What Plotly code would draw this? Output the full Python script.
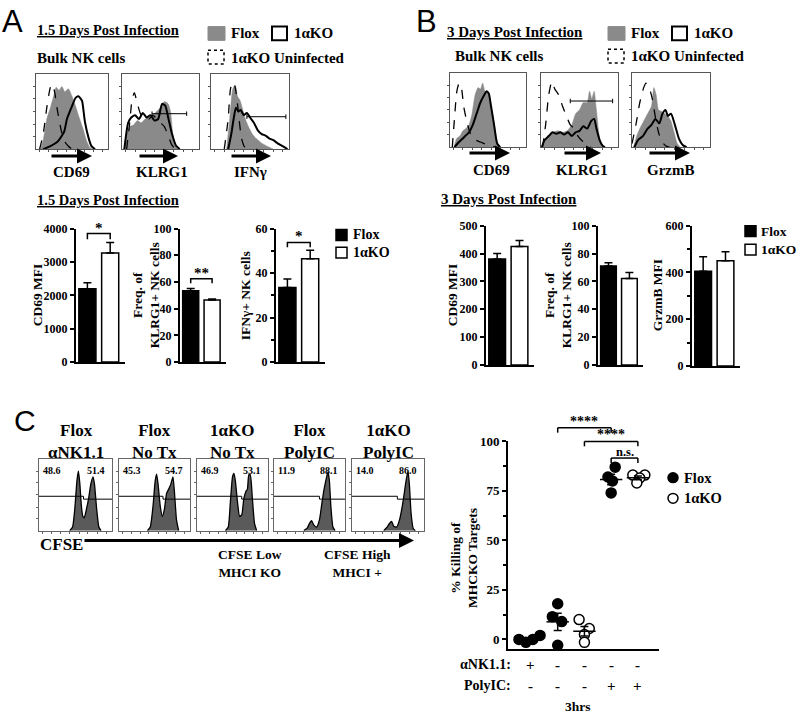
import plotly.graph_objects as go
import numpy as np

W, H = 796, 722
SERIF = "Liberation Serif"
SANS = "Liberation Sans"

# ---------------- data ----------------
bar_groups = ["Flox", "1αKO"]
A_cd69_mfi = [2200, 3270]
A_cd69_sem = [180, 310]
A_klrg1_pct = [53.5, 46.5]
A_klrg1_sem = [1.6, 0.8]
A_ifng_pct = [33.5, 46.5]
A_ifng_sem = [3.8, 3.8]
B_cd69_mfi = [380, 425]
B_cd69_sem = [20, 22]
B_klrg1_pct = [71, 62]
B_klrg1_sem = [2.3, 4.3]
B_grzmb_mfi = [405, 450]
B_grzmb_sem = [62, 38]

# flow histograms: (relative fluorescence, relative count)
A_cd69_unif = [(0.05,0),(0.1,0.2),(0.15,0.55),(0.2,0.82),(0.23,0.86),(0.26,0.75),(0.3,0.5),(0.35,0.25),(0.4,0.1),(0.45,0.04),(0.5,0)]
A_cd69_flox = [(0.06,0),(0.1,0.12),(0.15,0.4),(0.2,0.55),(0.25,0.72),(0.28,0.82),(0.32,0.78),(0.36,0.83),(0.4,0.76),(0.45,0.8),(0.5,0.7),(0.55,0.57),(0.6,0.42),(0.65,0.28),(0.7,0.12),(0.75,0.02),(0.8,0)]
A_cd69_ko = [(0.1,0),(0.2,0.04),(0.3,0.1),(0.39,0.23),(0.43,0.4),(0.5,0.57),(0.55,0.68),(0.59,0.7),(0.62,0.67),(0.64,0.64),(0.68,0.36),(0.73,0.15),(0.77,0.04),(0.82,0)]

A_klrg1_unif = [(0.06,0),(0.1,0.35),(0.13,0.65),(0.16,0.75),(0.2,0.6),(0.25,0.45),(0.3,0.45),(0.35,0.4),(0.4,0.45),(0.45,0.4),(0.5,0.35),(0.55,0.3),(0.6,0.18),(0.65,0.05),(0.7,0)]
A_klrg1_flox = [(0.03,0),(0.06,0.2),(0.1,0.3),(0.15,0.32),(0.2,0.38),(0.25,0.35),(0.3,0.4),(0.35,0.42),(0.4,0.45),(0.45,0.5),(0.5,0.55),(0.55,0.63),(0.6,0.6),(0.63,0.5),(0.66,0.2),(0.7,0.03),(0.73,0)]
A_klrg1_ko = [(0.03,0),(0.08,0.35),(0.12,0.42),(0.17,0.45),(0.22,0.4),(0.27,0.48),(0.32,0.42),(0.37,0.45),(0.42,0.38),(0.47,0.4),(0.52,0.6),(0.56,0.58),(0.6,0.42),(0.65,0.2),(0.7,0.05),(0.75,0)]
A_klrg1_gate = [(0.39,0.47),(0.84,0.47)]

A_ifng_unif = [(0.17,0),(0.22,0.4),(0.25,0.8),(0.28,0.89),(0.31,0.82),(0.35,0.5),(0.39,0.15),(0.43,0.03),(0.47,0)]
A_ifng_flox = [(0.2,0),(0.24,0.4),(0.28,0.8),(0.31,0.85),(0.34,0.7),(0.37,0.65),(0.4,0.55),(0.44,0.4),(0.48,0.3),(0.53,0.2),(0.58,0.14),(0.65,0.08),(0.72,0.04),(0.8,0)]
A_ifng_ko = [(0.22,0),(0.26,0.2),(0.29,0.4),(0.32,0.55),(0.35,0.5),(0.38,0.52),(0.42,0.45),(0.46,0.48),(0.5,0.42),(0.55,0.35),(0.6,0.25),(0.65,0.2),(0.7,0.18),(0.75,0.14),(0.8,0.12),(0.85,0.08),(0.9,0.05),(0.95,0.02),(0.98,0)]
A_ifng_gate = [(0.46,0.43),(0.96,0.43)]

B_cd69_unif = [(0.03,0),(0.06,0.4),(0.09,0.75),(0.12,0.86),(0.15,0.8),(0.18,0.55),(0.22,0.35),(0.27,0.18),(0.33,0.1),(0.4,0.07),(0.5,0.03),(0.6,0)]
B_cd69_flox = [(0.05,0),(0.09,0.12),(0.13,0.15),(0.17,0.22),(0.21,0.25),(0.25,0.3),(0.29,0.45),(0.33,0.7),(0.37,0.8),(0.4,0.78),(0.43,0.86),(0.46,0.75),(0.5,0.72),(0.53,0.6),(0.56,0.45),(0.6,0.2),(0.63,0.05),(0.66,0)]
B_cd69_ko = [(0.06,0),(0.1,0.05),(0.15,0.1),(0.2,0.15),(0.25,0.2),(0.3,0.3),(0.35,0.45),(0.4,0.6),(0.45,0.7),(0.48,0.75),(0.51,0.72),(0.54,0.55),(0.58,0.3),(0.62,0.05),(0.66,0)]

B_klrg1_unif = [(0.02,0),(0.06,0.3),(0.1,0.7),(0.14,0.88),(0.18,0.78),(0.23,0.7),(0.28,0.55),(0.33,0.42),(0.38,0.3),(0.43,0.25),(0.48,0.15),(0.54,0.08),(0.6,0.03),(0.65,0)]
B_klrg1_flox = [(0.01,0),(0.04,0.1),(0.1,0.15),(0.16,0.2),(0.22,0.22),(0.28,0.2),(0.34,0.22),(0.4,0.3),(0.45,0.45),(0.5,0.5),(0.55,0.6),(0.6,0.6),(0.63,0.75),(0.66,0.65),(0.69,0.75),(0.72,0.5),(0.75,0.2),(0.78,0.03),(0.8,0)]
B_klrg1_ko = [(0.01,0),(0.05,0.1),(0.1,0.15),(0.15,0.2),(0.2,0.18),(0.25,0.2),(0.3,0.17),(0.35,0.2),(0.4,0.15),(0.45,0.2),(0.5,0.22),(0.55,0.28),(0.6,0.25),(0.65,0.35),(0.69,0.38),(0.72,0.25),(0.76,0.1),(0.8,0.02),(0.83,0)]
B_klrg1_gate = [(0.38,0.62),(0.93,0.62)]

B_grzmb_unif = [(0.0,0.05),(0.05,0.3),(0.1,0.6),(0.15,0.8),(0.18,0.86),(0.22,0.8),(0.26,0.65),(0.3,0.4),(0.34,0.2),(0.38,0.08),(0.43,0.02),(0.48,0)]
B_grzmb_flox = [(0.02,0),(0.06,0.15),(0.1,0.25),(0.15,0.35),(0.2,0.45),(0.25,0.55),(0.28,0.8),(0.31,0.7),(0.34,0.5),(0.38,0.48),(0.42,0.45),(0.46,0.42),(0.5,0.35),(0.54,0.2),(0.58,0.05),(0.62,0)]
B_grzmb_ko = [(0.03,0),(0.08,0.1),(0.14,0.15),(0.2,0.25),(0.25,0.3),(0.3,0.38),(0.35,0.32),(0.39,0.45),(0.43,0.5),(0.46,0.42),(0.5,0.45),(0.55,0.3),(0.6,0.12),(0.65,0.03),(0.7,0)]

# CFSE histograms (panel C)
C_titles = ["Flox<br>αNK1.1", "Flox<br>No Tx", "1αKO<br>No Tx", "Flox<br>PolyIC", "1αKO<br>PolyIC"]
C_low_pct = ["48.6", "45.3", "46.9", "11.9", "14.0"]
C_high_pct = ["51.4", "54.7", "53.1", "88.1", "86.0"]
C_gate_split = [0.61, 0.62, 0.63, 0.64, 0.63]
C_hist_1 = [(0.42,0),(0.46,0.05),(0.49,0.3),(0.52,0.7),(0.54,0.83),(0.56,0.65),(0.58,0.35),(0.6,0.2),(0.62,0.18),(0.65,0.3),(0.68,0.45),(0.71,0.65),(0.74,0.75),(0.76,0.65),(0.79,0.3),(0.82,0.05),(0.85,0)]
C_hist_2 = [(0.4,0),(0.44,0.05),(0.48,0.35),(0.51,0.7),(0.53,0.79),(0.55,0.65),(0.58,0.35),(0.61,0.2),(0.64,0.3),(0.67,0.52),(0.7,0.58),(0.73,0.65),(0.76,0.75),(0.78,0.55),(0.81,0.15),(0.84,0)]
C_hist_3 = [(0.4,0),(0.44,0.05),(0.47,0.4),(0.5,0.75),(0.52,0.8),(0.54,0.7),(0.57,0.4),(0.6,0.2),(0.63,0.22),(0.66,0.45),(0.69,0.55),(0.71,0.58),(0.73,0.78),(0.75,0.78),(0.78,0.45),(0.81,0.1),(0.84,0)]
C_hist_4 = [(0.42,0),(0.47,0.04),(0.51,0.12),(0.53,0.14),(0.56,0.08),(0.6,0.05),(0.64,0.15),(0.67,0.35),(0.7,0.55),(0.73,0.7),(0.76,0.82),(0.78,0.7),(0.8,0.35),(0.83,0.05),(0.86,0)]
C_hist_5 = [(0.44,0),(0.48,0.04),(0.52,0.1),(0.55,0.13),(0.58,0.06),(0.62,0.05),(0.66,0.15),(0.7,0.35),(0.73,0.55),(0.76,0.75),(0.78,0.82),(0.8,0.6),(0.82,0.25),(0.85,0.03),(0.88,0)]

# killing assay (panel C, right)
kill_ank11_row = ["+", "-", "-", "-", "-"]
kill_polyic_row = ["-", "-", "-", "+", "+"]
kill_flox_ank11 = [0, -1.5, 0, 2]
kill_flox_notx = [18, 11.5, 9, -3]
kill_ko_notx = [10, 5.5, 2.5, -1.5]
kill_flox_polyic = [87, 82, 80, 74]
kill_ko_polyic = [83, 83, 81.5, 79]
jit_flox_ank11 = [-0.45, -0.19, 0.07, 0.34]
jit_flox_notx = [0.0, -0.2, 0.15, 0.0]
jit_ko_notx = [-0.2, 0.18, 0.0, 0.0]
jit_flox_polyic = [0.15, -0.12, 0.05, 0.0]
jit_ko_polyic = [-0.19, 0.26, 0.07, -0.04]

# ---------------- helpers ----------------
def fx(x): return x / W
def fy(y): return 1 - y / H

fig = go.Figure()
layout = dict(width=W, height=H, margin=dict(l=0, r=0, t=0, b=0),
              paper_bgcolor="white", plot_bgcolor="rgba(0,0,0,0)", showlegend=False)
shapes, annotations = [], []
naxes = [0]

def new_axes(x0, y0, x1, y1, xa, ya):
    naxes[0] += 1
    n = naxes[0]
    s = "" if n == 1 else str(n)
    layout["xaxis" + s] = dict(domain=[fx(x0), fx(x1)], anchor="y" + s, fixedrange=True, **xa)
    layout["yaxis" + s] = dict(domain=[fy(y1), fy(y0)], anchor="x" + s, fixedrange=True, **ya)
    return "x" + s, "y" + s

def text(x, y, s, size=13, xa="center", ya="middle", family=SERIF, bold=True, angle=0):
    annotations.append(dict(x=fx(x), y=fy(y), xref="paper", yref="paper", text=s, showarrow=False,
                            xanchor=xa, yanchor=ya, textangle=angle,
                            font=dict(family=family, size=size, color="black",
                                      weight="bold" if bold else "normal")))

def arrow(x0, x1, y, width=3):
    annotations.append(dict(x=fx(x1), y=fy(y), xref="paper", yref="paper", ax=x0 - x1, ay=0,
                            axref="pixel", ayref="pixel", showarrow=True, arrowhead=2, arrowsize=1,
                            arrowwidth=width, arrowcolor="black", text=""))

def rect(x0, y0, x1, y1, fill, lc="black", lw=1.5, dash="solid"):
    shapes.append(dict(type="rect", xref="paper", yref="paper", x0=fx(x0), x1=fx(x1), y0=fy(y0), y1=fy(y1),
                       fillcolor=fill, line=dict(color=lc, width=lw, dash=dash)))

def pline(x0, y0, x1, y1, w=1.5):
    shapes.append(dict(type="line", xref="paper", yref="paper", x0=fx(x0), x1=fx(x1), y0=fy(y0), y1=fy(y1),
                       line=dict(color="black", width=w)))

def xs(p): return [a for a, b in p]
def ys(p): return [b for a, b in p]

def hist_axes(x0, y0, x1, y1, lc):
    xa = dict(range=[0, 1], showline=True, mirror=True, linecolor=lc, linewidth=1, ticks="outside", ticklen=2,
              tickcolor=lc, tickvals=[0.05, 0.17, 0.3, 0.42, 0.55, 0.67, 0.8, 0.92], showticklabels=False,
              showgrid=False, zeroline=False)
    ya = dict(range=[0, 1], showline=True, mirror=True, linecolor=lc, linewidth=1, ticks="outside", ticklen=2,
              tickcolor=lc, tickvals=[0.17, 0.33, 0.5, 0.67, 0.83], showticklabels=False,
              showgrid=False, zeroline=False)
    return new_axes(x0, y0, x1, y1, xa, ya)

def flow_hist(box, flox, unif, ko, gate=None):
    xr, yr = hist_axes(*box, "#555555")
    fig.add_trace(go.Scatter(x=xs(flox), y=ys(flox), mode="lines", fill="tozeroy", fillcolor="#8a8a8a",
                             line=dict(color="#8a8a8a", width=0.5, shape="spline", smoothing=0.6), xaxis=xr, yaxis=yr))
    fig.add_trace(go.Scatter(x=xs(unif), y=ys(unif), mode="lines",
                             line=dict(color="black", width=1.3, dash="dash", shape="spline", smoothing=0.6), xaxis=xr, yaxis=yr))
    fig.add_trace(go.Scatter(x=xs(ko), y=ys(ko), mode="lines",
                             line=dict(color="black", width=2, shape="spline", smoothing=0.6), xaxis=xr, yaxis=yr))
    if gate:
        (g0, gy), (g1, _) = gate
        fig.add_trace(go.Scatter(x=[g0, g0, None, g0, g1, None, g1, g1], y=[gy - 0.03, gy + 0.03, None, gy, gy, None, gy - 0.03, gy + 0.03],
                                 mode="lines", line=dict(color="black", width=1), xaxis=xr, yaxis=yr))

def bar_chart(x0, y0, x1, y1, vals, sems, yrange, tickvals, minor=None):
    xa = dict(range=[0, 2.15], showline=True, linecolor="black", linewidth=2, showticklabels=False, ticks="",
              showgrid=False, zeroline=False)
    ya = dict(range=yrange, showline=True, linecolor="black", linewidth=2, ticks="outside", ticklen=4, tickwidth=2,
              tickcolor="black", tickvals=tickvals, ticktext=[str(v) for v in tickvals],
              tickfont=dict(family=SERIF, size=12, color="black", weight="bold"), showgrid=False, zeroline=False)
    if minor:
        ya["minor"] = dict(dtick=minor, ticklen=3, tickwidth=1.5, tickcolor="black", ticks="outside", showgrid=False)
    xr, yr = new_axes(x0, y0, x1, y1, xa, ya)
    fig.add_trace(go.Bar(x=[0.5, 1.5], y=vals, width=0.75, text=bar_groups, textposition="none",
                         marker=dict(color=["black", "white"], line=dict(color="black", width=1.5)),
                         error_y=dict(type="data", symmetric=False, array=sems, arrayminus=[0, 0],
                                      color="black", thickness=1.5, width=4),
                         xaxis=xr, yaxis=yr, cliponaxis=False))
    return xr, yr

def bracket(xr, yr, yv, drop, label, lsize=15):
    shapes.append(dict(type="path", xref=xr, yref=yr, path=f"M 0.5,{yv-drop} L 0.5,{yv} L 1.5,{yv} L 1.5,{yv-drop}",
                       line=dict(color="black", width=1.5)))
    annotations.append(dict(x=1.0, y=yv, xref=xr, yref=yr, text=label, showarrow=False, yanchor="bottom",
                            yshift=-4, font=dict(family=SERIF, size=lsize, color="black", weight="bold")))

# ---------------- Panel A ----------------
text(12, 15, "A", size=31, family=SANS, bold=False)
text(35, 23, "<u>1.5 Days Post Infection</u>", size=14.5, xa="left")
text(35, 52, "Bulk NK cells", size=15, xa="left")
rect(208, 20, 225, 34, "#8a8a8a", lc="#8a8a8a", lw=1)
text(229, 27, "Flox", size=15, xa="left")
rect(272, 20, 287, 34, "white", lw=2)
text(292, 27, "1αKO", size=15, xa="left")
rect(208, 44, 224, 58, "white", lw=1.5, dash="dot")
text(229, 52, "1αKO Uninfected", size=15, xa="left")

flow_hist((36, 68, 108, 145), A_cd69_flox, A_cd69_unif, A_cd69_ko)
flow_hist((122, 68, 199, 145), A_klrg1_flox, A_klrg1_unif, A_klrg1_ko, A_klrg1_gate)
flow_hist((211, 68, 289, 145), A_ifng_flox, A_ifng_unif, A_ifng_ko, A_ifng_gate)
arrow(50, 92, 152); arrow(138, 178, 152); arrow(230, 271, 152)
text(71, 168, "CD69", size=15); text(162, 168, "KLRG1", size=15); text(250, 168, "IFNγ", size=15)

text(35, 197, "<u>1.5 Days Post Infection</u>", size=14.5, xa="left")
xr, yr = bar_chart(76, 226, 125, 362, A_cd69_mfi, A_cd69_sem, [0, 4000], [0, 1000, 2000, 3000, 4000])
bracket(xr, yr, 3850, 170, "*")
text(37, 294, "CD69 MFI", size=13.5, angle=-90)
xr, yr = bar_chart(180, 226, 226, 362, A_klrg1_pct, A_klrg1_sem, [0, 100], [0, 20, 40, 60, 80, 100])
bracket(xr, yr, 62.5, 3.5, "**")
text(146, 294, "Freq. of<br>KLRG1+ NK cells", size=13.5, angle=-90)
xr, yr = bar_chart(276, 226, 325, 362, A_ifng_pct, A_ifng_sem, [0, 60], [0, 20, 40, 60], minor=10)
bracket(xr, yr, 53.8, 2.2, "*")
text(245, 294, "IFNγ+ NK cells", size=13.5, angle=-90)
rect(336, 227, 347, 238, "black", lw=1.5)
text(351, 232, "Flox", size=14, xa="left")
rect(336, 245, 347, 256, "white", lw=1.5)
text(351, 250, "1αKO", size=14, xa="left")

# ---------------- Panel B ----------------
text(426, 15, "B", size=31, family=SANS, bold=False)
text(445, 25, "<u>3 Days Post Infection</u>", size=15, xa="left")
text(453, 50, "Bulk NK cells", size=15, xa="left")
rect(608, 20, 625, 34, "#8a8a8a", lc="#8a8a8a", lw=1)
text(629, 27, "Flox", size=15, xa="left")
rect(672, 20, 687, 34, "white", lw=2)
text(692, 27, "1αKO", size=15, xa="left")
rect(608, 43, 624, 57, "white", lw=1.5, dash="dot")
text(629, 50, "1αKO Uninfected", size=15, xa="left")

flow_hist((450, 67, 526, 143), B_cd69_flox, B_cd69_unif, B_cd69_ko)
flow_hist((541, 67, 618, 143), B_klrg1_flox, B_klrg1_unif, B_klrg1_ko, B_klrg1_gate)
flow_hist((632, 67, 710, 143), B_grzmb_flox, B_grzmb_unif, B_grzmb_ko)
arrow(468, 510, 149); arrow(563, 601, 149); arrow(648, 690, 149)
text(491, 166, "CD69", size=15); text(582, 166, "KLRG1", size=15); text(670, 166, "GrzmB", size=15)

text(439, 196, "<u>3 Days Post Infection</u>", size=15, xa="left")
bar_chart(486, 223, 534, 365, B_cd69_mfi, B_cd69_sem, [0, 500], [0, 100, 200, 300, 400, 500])
text(452, 294, "CD69 MFI", size=13.5, angle=-90)
bar_chart(598, 223, 643, 365, B_klrg1_pct, B_klrg1_sem, [0, 100], [0, 20, 40, 60, 80, 100])
text(558, 294, "Freq. of<br>KLRG1+ NK cells", size=13.5, angle=-90)
bar_chart(692, 223, 740, 366, B_grzmb_mfi, B_grzmb_sem, [0, 600], [0, 200, 400, 600], minor=100)
text(657, 294, "GrzmB MFI", size=13.5, angle=-90)
rect(745, 223, 756, 234, "black", lw=1.5)
text(759, 229, "Flox", size=13.5, xa="left")
rect(745, 242, 756, 253, "white", lw=1.5)
text(759, 247, "1αKO", size=13.5, xa="left")

# ---------------- Panel C ----------------
text(25, 422, "C", size=30, family=SANS, bold=False)
C_boxes = [(39, 461, 112, 534), (119, 461, 190, 534), (197, 461, 268, 534), (274, 461, 345, 534), (352, 461, 424, 534)]
C_hists = [C_hist_1, C_hist_2, C_hist_3, C_hist_4, C_hist_5]
for i, box in enumerate(C_boxes):
    xr, yr = hist_axes(*box, "#666666")
    h = C_hists[i]
    fig.add_trace(go.Scatter(x=xs(h), y=ys(h), mode="lines", fill="tozeroy", fillcolor="#5a5a5a",
                             line=dict(color="black", width=1.3, shape="spline", smoothing=0.5), xaxis=xr, yaxis=yr))
    sp = C_gate_split[i]
    fig.add_trace(go.Scatter(x=[0, sp, sp, 1], y=[0.48, 0.48, 0.44, 0.44], mode="lines",
                             line=dict(color="black", width=1), xaxis=xr, yaxis=yr))
    cx = (box[0] + box[2]) / 2
    text(cx, 443, C_titles[i], size=17)
    text(box[0] + 2, 473, C_low_pct[i], size=10, xa="left")
    text(box[0] + 0.78 * (box[2] - box[0]), 473, C_high_pct[i], size=10)
text(38, 548, "CFSE", size=17, xa="left")
arrow(83, 414, 544, width=3)
text(250, 567, "CFSE Low<br>MHCI KO", size=13.5)
text(357, 567, "CFSE High<br>MHCI +", size=13.5)

# killing scatter
SX0, SX1, SY0, SY1 = 508, 659, 443, 655
SR = [0.14, 5.79]
YR = [-5, 100]
xa = dict(range=SR, showline=True, linecolor="black", linewidth=2, showticklabels=False, ticks="",
          showgrid=False, zeroline=False)
ya = dict(range=YR, showline=True, linecolor="black", linewidth=2, ticks="outside", ticklen=4, tickwidth=2,
          tickcolor="black", tickvals=[0, 25, 50, 75, 100],
          tickfont=dict(family=SERIF, size=13, color="black", weight="bold"), showgrid=False, zeroline=False,
          minor=dict(dtick=12.5, ticklen=3, tickwidth=1.5, tickcolor="black", ticks="outside", showgrid=False))
sxr, syr = new_axes(SX0, SY0, SX1, SY1, xa, ya)

def spx(g): return SX0 + (g - SR[0]) / (SR[1] - SR[0]) * (SX1 - SX0)
def spy(v): return SY1 - (v - YR[0]) / (YR[1] - YR[0]) * (SY1 - SY0)

kill_sets = [(1, kill_flox_ank11, jit_flox_ank11, True), (2, kill_flox_notx, jit_flox_notx, True),
             (3, kill_ko_notx, jit_ko_notx, False), (4, kill_flox_polyic, jit_flox_polyic, True),
             (5, kill_ko_polyic, jit_ko_polyic, False)]
means, sems, gx = [], [], []
for g, vals, jit, filled in kill_sets:
    fig.add_trace(go.Scatter(x=[g + j for j in jit], y=vals, mode="markers", cliponaxis=False,
                             marker=dict(size=10, color="black" if filled else "white",
                                         line=dict(color="black", width=1.5)), xaxis=sxr, yaxis=syr))
    arr = np.array(vals, dtype=float)
    means.append(arr.mean()); sems.append(arr.std(ddof=1) / np.sqrt(len(arr))); gx.append(g)
fig.add_trace(go.Scatter(x=gx, y=means, mode="markers", cliponaxis=False,
                         marker=dict(symbol="line-ew", size=16, line=dict(color="black", width=1.5)),
                         error_y=dict(type="data", array=sems, color="black", thickness=1.5, width=4),
                         xaxis=sxr, yaxis=syr))

def sbracket(g0, g1, v, label, size=13):
    x0, x1, y = spx(g0), spx(g1), spy(v)
    pline(x0, y, x1, y); pline(x0, y, x0, y + 5); pline(x1, y, x1, y + 5)
    text((x0 + x1) / 2, y + 3, label, size=size, ya="bottom")
sbracket(2, 4, 106.9, "****", size=14)
sbracket(3, 5, 100, "****", size=14)
sbracket(4, 5, 91.6, "n.s.", size=12.5)

text(464, 562, "% Killing of<br>MHCKO Targets", size=13.5, angle=-90)
for i in range(5):
    g = i + 1
    text(spx(g), 671, kill_ank11_row[i], size=15)
    text(spx(g), 692, kill_polyic_row[i], size=15)
text(513, 671, "αNK1.1:", size=14, xa="right")
text(513, 692, "PolyIC:", size=14, xa="right")
text(578, 713, "3hrs", size=13.5)

shapes.append(dict(type="circle", xref="paper", yref="paper", x0=fx(668), x1=fx(678), y0=fy(485), y1=fy(475),
                   fillcolor="black", line=dict(color="black", width=1.5)))
shapes.append(dict(type="circle", xref="paper", yref="paper", x0=fx(668), x1=fx(678), y0=fy(506), y1=fy(496),
                   fillcolor="white", line=dict(color="black", width=1.5)))
text(682, 480, "Flox", size=14.5, xa="left")
text(682, 501, "1αKO", size=14.5, xa="left")

layout["shapes"] = shapes
layout["annotations"] = annotations
fig.update_layout(**layout)
fig.write_html("out.html", config={"displayModeBar": False},
               post_script="document.body.style.margin='0';document.body.style.overflow='hidden';")
